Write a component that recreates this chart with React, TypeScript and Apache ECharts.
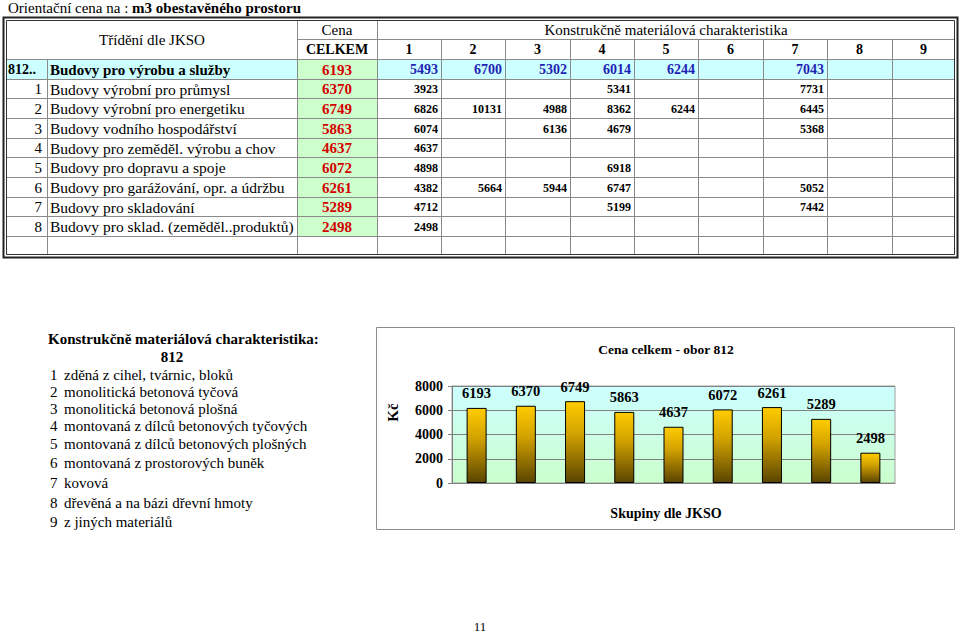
import React, { useEffect, useRef } from "react";
import * as echarts from "echarts";

const FONT = "Liberation Serif";

const rowCodes = ["812..", "1", "2", "3", "4", "5", "6", "7", "8"];
const rowNames = [
  "Budovy pro výrobu a služby",
  "Budovy výrobní pro průmysl",
  "Budovy výrobní pro energetiku",
  "Budovy vodního hospodářství",
  "Budovy pro zeměděl. výrobu a chov",
  "Budovy pro dopravu a spoje",
  "Budovy pro garážování, opr. a údržbu",
  "Budovy pro skladování",
  "Budovy pro sklad. (zeměděl..produktů)",
];
const cenaCelkem = [6193, 6370, 6749, 5863, 4637, 6072, 6261, 5289, 2498];
const materialCols = ["1", "2", "3", "4", "5", "6", "7", "8", "9"];
const row812 = [5493, 6700, 5302, 6014, 6244, null, 7043, null, null];
const row1 = [3923, null, null, 5341, null, null, 7731, null, null];
const row2 = [6826, 10131, 4988, 8362, 6244, null, 6445, null, null];
const row3 = [6074, null, 6136, 4679, null, null, 5368, null, null];
const row4 = [4637, null, null, null, null, null, null, null, null];
const row5 = [4898, null, null, 6918, null, null, null, null, null];
const row6 = [4382, 5664, 5944, 6747, null, null, 5052, null, null];
const row7 = [4712, null, null, 5199, null, null, 7442, null, null];
const row8 = [2498, null, null, null, null, null, null, null, null];
const tableValues = [row812, row1, row2, row3, row4, row5, row6, row7, row8];

const chartCategories = ["812", "1", "2", "3", "4", "5", "6", "7", "8"];
const yTicks = [0, 2000, 4000, 6000, 8000];

const materialList = [
  "zděná z cihel, tvárnic, bloků",
  "monolitická betonová tyčová",
  "monolitická betonová plošná",
  "montovaná z dílců betonových tyčových",
  "montovaná z dílců betonových plošných",
  "montovaná z prostorových buněk",
  "kovová",
  "dřevěná a na bázi dřevní hmoty",
  "z jiných materiálů",
];

function buildGraphics(): any[] {
  const g: any[] = [];
  const colX = [6, 47, 297, 377, 441, 505, 570, 634, 698, 763, 827, 892, 955];
  const rowY = [20, 39, 59, 79, 98, 118, 138, 157, 177, 197, 216, 236, 255];
  const lineColor = "#8a8a8a";

  g.push({ type: "rect", shape: { x: 6, y: 59, width: 949, height: 20 }, style: { fill: "#ccffff" }, z: 1 });
  g.push({ type: "rect", shape: { x: 297, y: 59, width: 80, height: 236 - 59 }, style: { fill: "#ccffcc" }, z: 2 });

  const hl = (y: number, x1: number, x2: number) =>
    g.push({ type: "line", shape: { x1, y1: y + 0.5, x2, y2: y + 0.5 }, style: { stroke: lineColor, lineWidth: 1 }, z: 3 });
  const vl = (x: number, y1: number, y2: number) =>
    g.push({ type: "line", shape: { x1: x + 0.5, y1, x2: x + 0.5, y2 }, style: { stroke: lineColor, lineWidth: 1 }, z: 3 });
  hl(39, 297, 955);
  for (let i = 2; i < rowY.length - 1; i++) hl(rowY[i], 6, 955);
  vl(47, 59, 255);
  vl(297, 20, 255);
  vl(377, 20, 255);
  for (let i = 4; i < colX.length - 1; i++) vl(colX[i], 39, 255);

  g.push({ type: "rect", shape: { x: 3.5, y: 17.5, width: 954, height: 240 }, style: { fill: "none", stroke: "#222", lineWidth: 2 }, z: 4 });
  g.push({ type: "rect", shape: { x: 6.5, y: 20.5, width: 948, height: 234 }, style: { fill: "none", stroke: "#333", lineWidth: 1 }, z: 4 });

  const txt = (
    text: string, x: number, y: number, opts: { size?: number; bold?: boolean; color?: string; align?: string }
  ) => {
    g.push({
      type: "text",
      z: 10,
      style: {
        text,
        x,
        y,
        fill: opts.color || "#000",
        fontFamily: FONT,
        fontSize: opts.size || 15,
        fontWeight: opts.bold ? "bold" : "normal",
        align: opts.align || "left",
        verticalAlign: "middle",
      },
    });
  };

  g.push({
    type: "text",
    z: 10,
    style: {
      x: 8,
      y: 8,
      verticalAlign: "middle",
      fontFamily: FONT,
      fontSize: 15,
      text: "{a|Orientační cena na : }{b|m3 obestavěného prostoru}",
      rich: {
        a: { fontFamily: FONT, fontSize: 15, fill: "#000" },
        b: { fontFamily: FONT, fontSize: 15, fontWeight: "bold", fill: "#000" },
      },
    },
  });

  txt("Třídění dle JKSO", 152, 40, { size: 15, align: "center" });
  txt("Cena", 337, 30, { size: 15, align: "center" });
  txt("CELKEM", 337, 49.5, { size: 14, bold: true, align: "center" });
  txt("Konstrukčně materiálová charakteristika", 666, 30, { size: 15, align: "center" });
  materialCols.forEach((c, i) => {
    txt(c, (colX[i + 3] + colX[i + 4]) / 2, 49.5, { size: 14, bold: true, align: "center" });
  });

  rowCodes.forEach((code, r) => {
    const yc = (rowY[r + 2] + rowY[r + 3]) / 2 + 0.5;
    const main = r === 0;
    if (main) txt(code, 8, yc, { size: 14, bold: true });
    else txt(code, 42, yc, { size: 15, align: "right" });
    txt(rowNames[r], 50, yc, { size: main ? 15 : 15.5, bold: main });
    txt(String(cenaCelkem[r]), 337, yc, { size: 15, bold: true, color: "#d40000", align: "center" });
    tableValues[r].forEach((v, c) => {
      if (v == null) return;
      txt(String(v), colX[c + 4] - 3, yc, {
        size: main ? 14 : 12,
        bold: true,
        color: main ? "#1f1fb4" : "#000",
        align: "right",
      });
    });
  });

  txt("Konstrukčně materiálová charakteristika:", 48, 339, { size: 15, bold: true });
  txt("812", 172, 357, { size: 15, bold: true, align: "center" });
  const listY = [375, 392, 409, 426, 444, 463, 483, 503, 522];
  materialList.forEach((m, i) => {
    txt(String(i + 1), 50, listY[i], { size: 15 });
    txt(m, 64, listY[i], { size: 15 });
  });

  g.push({ type: "rect", shape: { x: 376.5, y: 327.5, width: 578, height: 202 }, style: { fill: "#fff", stroke: "#8c8c8c", lineWidth: 1 }, z: -10 });
  txt("Cena celkem - obor 812", 666, 349, { size: 13.5, bold: true, align: "center" });

  txt("11", 480, 626, { size: 13, align: "center" });
  return g;
}

export default function App() {
  const ref = useRef<HTMLDivElement>(null);
  useEffect(() => {
    if (!ref.current) return;
    const chart = echarts.init(ref.current, null, { renderer: "svg" });
    chart.setOption({
      animation: false,
      backgroundColor: "#fff",
      textStyle: { fontFamily: FONT },
      grid: {
        left: 452,
        top: 386,
        right: 65,
        bottom: 149,
        show: true,
        backgroundColor: new echarts.graphic.LinearGradient(0, 0, 0, 1, [
          { offset: 0, color: "#ccffff" },
          { offset: 1, color: "#ccffcc" },
        ]),
        borderColor: "#a0a0a0",
        borderWidth: 1,
      },
      xAxis: {
        type: "category",
        data: chartCategories,
        axisLabel: { show: false },
        axisTick: { show: false },
        axisLine: { lineStyle: { color: "#808080" } },
        name: "Skupiny dle JKSO",
        nameLocation: "middle",
        nameGap: 23,
        nameTextStyle: { fontFamily: FONT, fontWeight: "bold", fontSize: 14, color: "#000", padding: [0, 15, 0, 0] },
      },
      yAxis: {
        type: "value",
        min: yTicks[0],
        max: yTicks[yTicks.length - 1],
        interval: 2000,
        axisLine: { show: true, lineStyle: { color: "#808080" } },
        axisTick: { show: true, length: 4, lineStyle: { color: "#808080" } },
        axisLabel: {
          fontFamily: FONT,
          fontWeight: "bold",
          fontSize: 14,
          color: "#000",
          margin: 9,
          formatter: (v: number) => String(v),
        },
        splitLine: { lineStyle: { color: "#808080" } },
        name: "Kč",
        nameLocation: "middle",
        nameGap: 52,
        nameTextStyle: { fontFamily: FONT, fontWeight: "bold", fontSize: 15, color: "#000", padding: [0, 0, 0, 44] },
      },
      series: [
        {
          type: "bar",
          data: cenaCelkem,
          barWidth: 20,
          itemStyle: {
            color: new echarts.graphic.LinearGradient(0, 0, 0, 1, [
              { offset: 0, color: "#ffcc00" },
              { offset: 0.4, color: "#d2a200" },
              { offset: 1, color: "#5a4400" },
            ]),
            borderColor: "#000",
            borderWidth: 1,
          },
          label: {
            show: true,
            position: "top",
            distance: 7,
            fontFamily: FONT,
            fontWeight: "bold",
            fontSize: 14.5,
            color: "#000",
          },
        },
      ],
      graphic: buildGraphics(),
    });
    return () => chart.dispose();
  }, []);
  return <div ref={ref} style={{ position: "absolute", left: 0, top: 0, width: 960, height: 632 }} />;
}
